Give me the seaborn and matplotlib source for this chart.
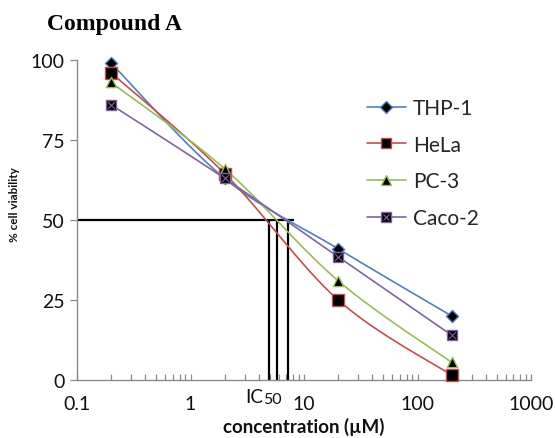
import numpy as np
import pandas as pd
import matplotlib
matplotlib.use("Agg")
import matplotlib.pyplot as plt
import seaborn as sns
from matplotlib.lines import Line2D
from matplotlib.legend_handler import HandlerTuple
from matplotlib.ticker import LogLocator, FixedLocator, NullFormatter

# ---- data ----
concentrations = [0.2, 2, 20, 200]
thp1 = [99, 63, 41, 20]
hela = [96, 64.5, 25, 1.5]
pc3 = [93, 66, 31, 5.5]
caco2 = [86, 63, 38.5, 14]
series_names = ["THP-1", "HeLa", "PC-3", "Caco-2"]
ic50_values = [4.9, 5.8, 7.2]
ic50_level = 50
ic50_line_end = 8.2
x_ticks = [0.1, 1, 10, 100, 1000]
x_tick_labels = ["0.1", "1", "10", "100", "1000"]
y_ticks = [0, 25, 50, 75, 100]

colors = {"THP-1": "#4F81BD", "HeLa": "#C0504D", "PC-3": "#9BBB59", "Caco-2": "#8064A2"}
markers = {"THP-1": "D", "HeLa": "s", "PC-3": "^", "Caco-2": "s"}
msize = {"THP-1": 38, "HeLa": 64, "PC-3": 54, "Caco-2": 60}

df = pd.DataFrame({
    "conc": concentrations * 4,
    "viability": thp1 + hela + pc3 + caco2,
    "line": sum([[n] * len(concentrations) for n in series_names], []),
})

sns.set_theme(style="white")
plt.rcParams["font.family"] = ["Lato", "DejaVu Sans"]

fig = plt.figure(figsize=(5.55, 4.39), dpi=100)
ax = fig.add_axes([77 / 555, 1 - 381 / 439, 454 / 555, 320 / 439])


def smooth(xv, yv, n=40):
    # Catmull-Rom style smoothing in log-x space (drawing style only)
    lx = np.log10(np.asarray(xv, float))
    y = np.asarray(yv, float)
    P = np.column_stack([lx, y])
    pts = []
    m = len(P)
    for i in range(m - 1):
        p0 = P[i - 1] if i > 0 else P[i]
        p1, p2 = P[i], P[i + 1]
        p3 = P[i + 2] if i + 2 < m else P[i + 1]
        c1 = p1 + (p2 - p0) / 6
        c2 = p2 - (p3 - p1) / 6
        t = np.linspace(0, 1, n)[:, None]
        b = ((1 - t) ** 3) * p1 + 3 * ((1 - t) ** 2) * t * c1 + 3 * (1 - t) * t ** 2 * c2 + t ** 3 * p2
        pts.append(b if i == 0 else b[1:])
    pts = np.vstack(pts)
    return 10 ** pts[:, 0], pts[:, 1]


# IC50 guide lines
ax.hlines(ic50_level, x_ticks[0], ic50_line_end, color="black", lw=1.6, zorder=2)
ax.vlines(ic50_values, 0, ic50_level, color="black", lw=1.6, zorder=2)

for name in series_names:
    sub = df[df["line"] == name]
    xs, ys = smooth(sub["conc"], sub["viability"])
    sns.lineplot(x=xs, y=ys, ax=ax, color=colors[name], lw=1.2, sort=False,
                 estimator=None, zorder=3)
    sns.scatterplot(data=sub, x="conc", y="viability", ax=ax, marker=markers[name],
                    color="black", edgecolor=colors[name], linewidth=1.0,
                    s=msize[name], zorder=4, legend=False, clip_on=False)
    if name == "Caco-2":
        sns.scatterplot(data=sub, x="conc", y="viability", ax=ax, marker="x",
                        color=colors[name], linewidth=0.8, s=24, zorder=5,
                        legend=False, clip_on=False)

ax.set_xscale("log")
ax.set_xlim(0.1, 1000)
ax.set_ylim(0, 100)

ax.xaxis.set_major_locator(FixedLocator(x_ticks))
ax.set_xticklabels(x_tick_labels)
ax.xaxis.set_minor_locator(LogLocator(base=10, subs=np.arange(2, 10)))
ax.xaxis.set_minor_formatter(NullFormatter())
ax.set_yticks(y_ticks)

for s in ["top", "right"]:
    ax.spines[s].set_visible(False)
for s in ["left", "bottom"]:
    ax.spines[s].set_color("#8a8a8a")
    ax.spines[s].set_linewidth(1.0)

ax.tick_params(axis="x", which="both", direction="in", length=4, width=0.9,
               color="#8a8a8a", bottom=True, labelsize=14, pad=10.5, labelcolor="#111111")
ax.tick_params(axis="y", which="major", direction="out", length=5, width=0.9,
               color="#8a8a8a", left=True, labelsize=14, pad=4, labelcolor="#111111")

ax.set_xlabel("concentration (µM)", fontsize=13.5, fontweight="bold", labelpad=4, color="#111111")
ax.set_ylabel("% cell viability", fontsize=8.5, fontweight="bold", color="#111111")
ax.yaxis.set_label_coords(-0.126, 0.55)

# IC50 label on the x axis
ax.annotate("IC", xy=(ic50_values[0], 0), xycoords="data", xytext=(-4, -12),
            textcoords="offset points", ha="right", va="center", fontsize=13.5, color="#111111")
ax.annotate("50", xy=(ic50_values[0], 0), xycoords="data", xytext=(-4, -13.5),
            textcoords="offset points", ha="left", va="center", fontsize=11.5, color="#111111")

fig.text(47 / 555, 1 - 30 / 439, "Compound A", fontsize=17, fontweight="bold",
         family="Liberation Serif", ha="left", va="baseline", color="black")

# legend
handles = []
for name in series_names:
    h = Line2D([0], [0], color=colors[name], lw=1.2, marker=markers[name],
               mfc="black", mec=colors[name], ms=np.sqrt(msize[name]) * 0.95)
    if name == "Caco-2":
        hx = Line2D([0], [0], color="none", marker="x", mec=colors[name], ms=4.5, mew=0.8)
        h = (h, hx)
    handles.append(h)
fig.legend(handles, series_names, loc="upper left",
           bbox_to_anchor=(367 / 555, 1 - 99 / 439), frameon=False, fontsize=15,
           handlelength=1.85, handletextpad=0.35, labelspacing=0.8,
           borderpad=0, borderaxespad=0,
           handler_map={tuple: HandlerTuple(ndivide=1, pad=0)})

fig.savefig("out.png", dpi=100)
